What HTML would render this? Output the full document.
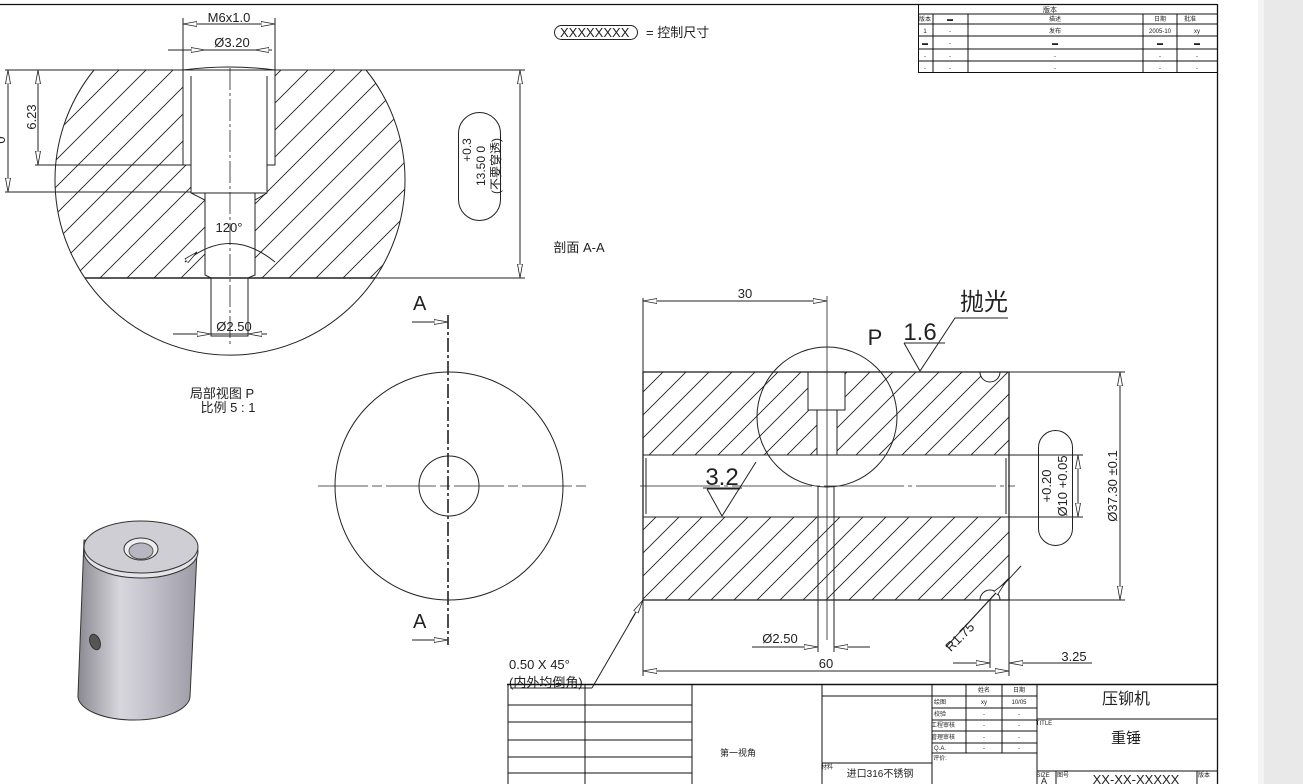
<!DOCTYPE html>
<html><head><meta charset="utf-8"><style>
html,body{margin:0;padding:0;background:#fff;}
body{width:1303px;height:784px;overflow:hidden;position:relative;}
svg{position:absolute;left:0;top:0;}
text{font-family:"Liberation Sans","Noto Sans CJK SC",sans-serif;fill:#222;}
</style></head><body>
<svg width="1303" height="784" viewBox="0 0 1303 784" xmlns="http://www.w3.org/2000/svg">
<defs>
<pattern id="h1" patternUnits="userSpaceOnUse" width="27" height="27">
<path d="M0,27 L27,0 M-5,5 L5,-5 M22,32 L32,22" stroke="#222" stroke-width="0.9"/></pattern>
<pattern id="h2" patternUnits="userSpaceOnUse" width="23" height="23">
<path d="M0,23 L23,0 M-5,5 L5,-5 M18,28 L28,18" stroke="#222" stroke-width="0.9"/></pattern>
<clipPath id="cc"><circle cx="230" cy="180" r="175"/></clipPath>
<linearGradient id="cyl" x1="0" x2="1" y1="0" y2="0">
<stop offset="0" stop-color="#8a8890"/><stop offset="0.35" stop-color="#d8d6dd"/><stop offset="0.6" stop-color="#c4c2cb"/><stop offset="1" stop-color="#9c9aa4"/></linearGradient>
<marker id="ar" markerWidth="14" markerHeight="6" refX="14" refY="3" orient="auto" markerUnits="userSpaceOnUse"><path d="M0,0.5 L14,3 L0,5.5 Z" fill="#fff" stroke="#222" stroke-width="0.8"/></marker>
</defs>
<rect x="1262" y="0" width="41" height="784" fill="#e9e9e9"/>
<rect x="1258" y="0" width="6" height="784" fill="#f4f4f4"/>
<g stroke="#111" fill="none" stroke-width="1">
<line x1="0" y1="4.5" x2="1217" y2="4.5" stroke-width="1.3"/>
<line x1="1217.5" y1="4" x2="1217.5" y2="784" stroke-width="1.3"/>
</g>
<!-- revision table -->
<g stroke="#111" stroke-width="1" fill="none">
<rect x="918.5" y="4.5" width="299" height="68"/>
<line x1="918" y1="14" x2="1217" y2="14"/><line x1="918" y1="24" x2="1217" y2="24"/>
<line x1="918" y1="36" x2="1217" y2="36"/><line x1="918" y1="49" x2="1217" y2="49"/><line x1="918" y1="61" x2="1217" y2="61"/>
<line x1="933" y1="14" x2="933" y2="72"/><line x1="968" y1="14" x2="968" y2="72"/><line x1="1143" y1="14" x2="1143" y2="72"/><line x1="1177" y1="14" x2="1177" y2="72"/>
</g>
<g font-size="6" text-anchor="middle">
<text x="1050" y="12" font-size="7">版本</text>
<text x="925" y="21">版本</text><text x="950" y="21">▬</text><text x="1055" y="21">描述</text><text x="1160" y="21">日期</text><text x="1190" y="21">批准</text>
<text x="925" y="33">1</text><text x="950" y="33">-</text><text x="1055" y="33">发布</text><text x="1160" y="33">2005-10</text><text x="1197" y="33">xy</text>
<text x="925" y="45">▬</text><text x="950" y="45">-</text><text x="1055" y="45">▬</text><text x="1160" y="45">▬</text><text x="1197" y="45">▬</text>
<text x="925" y="58">-</text><text x="950" y="58">-</text><text x="1055" y="58">-</text><text x="1160" y="58">-</text><text x="1197" y="58">-</text>
<text x="925" y="70">-</text><text x="950" y="70">-</text><text x="1055" y="70">-</text><text x="1160" y="70">-</text><text x="1197" y="70">-</text>
</g>
<!-- legend -->
<rect x="554.5" y="25.5" width="83" height="14" rx="7" fill="none" stroke="#222"/>
<text x="560" y="37" font-size="13">XXXXXXXX</text>
<text x="646" y="37" font-size="13">= 控制尺寸</text>

<!-- detail view P -->
<g clip-path="url(#cc)">
<rect x="40" y="70" width="380" height="208" fill="url(#h1)"/>
</g>
<g stroke="#222" fill="#fff" stroke-width="1">
<path d="M183,70 L183,165 L191,165 L191,193 L205,200 L205,275 L211,278 L248,278 L255,275 L255,200 L267,193 L267,165 L275,165 L275,70 Z"/>
<line x1="191" y1="76" x2="191" y2="193"/><line x1="267" y1="76" x2="267" y2="193"/>
<path d="M183,70 Q229,64 275,70" fill="none"/>
<line x1="205" y1="193" x2="205" y2="275"/><line x1="255" y1="193" x2="255" y2="275"/>
<line x1="191" y1="193" x2="267" y2="193"/>
<rect x="211" y="278" width="37" height="58" stroke="#222"/>
</g>
<g stroke="#222" fill="none" stroke-width="1">
<path d="M94,70 L366,70"/>
<path d="M85,278 L375,278" stroke-width="1.4"/>
<path d="M94,70 A175,175 0 1 0 366,70"/>
<line x1="230" y1="68" x2="230" y2="345" stroke-dasharray="22,3,3,3" stroke-width="0.8"/>
<!-- dims -->
<line x1="183" y1="18" x2="183" y2="70"/><line x1="275" y1="18" x2="275" y2="70"/>
<line x1="205" y1="24" x2="183" y2="24" marker-end="url(#ar)"/><line x1="252" y1="24" x2="275" y2="24" marker-end="url(#ar)"/>
<line x1="205" y1="24" x2="252" y2="24"/>
<line x1="168" y1="50" x2="205" y2="50" marker-end="url(#ar)"/><line x1="272" y1="50" x2="255" y2="50" marker-end="url(#ar)"/>
<line x1="205" y1="50" x2="255" y2="50"/>
<line x1="5" y1="70" x2="94" y2="70"/>
<line x1="35" y1="165" x2="183" y2="165"/><line x1="5" y1="192" x2="191" y2="192"/>
<line x1="38" y1="117" x2="38" y2="70" marker-end="url(#ar)"/><line x1="38" y1="117" x2="38" y2="165" marker-end="url(#ar)"/>
<line x1="8" y1="130" x2="8" y2="70" marker-end="url(#ar)"/><line x1="8" y1="130" x2="8" y2="192" marker-end="url(#ar)"/>
<line x1="366" y1="70" x2="525" y2="70"/><line x1="375" y1="278" x2="525" y2="278"/>
<line x1="520" y1="174" x2="520" y2="70" marker-end="url(#ar)"/><line x1="520" y1="174" x2="520" y2="278" marker-end="url(#ar)"/>
<rect x="458.5" y="112.5" width="42" height="108" rx="21"/>
<path d="M185,262 Q230,225 275,262"/>
<line x1="185" y1="262" x2="197" y2="252" marker-end="url(#ar)"/>
<line x1="173" y1="334" x2="211" y2="334" marker-end="url(#ar)"/><line x1="267" y1="334" x2="248" y2="334" marker-end="url(#ar)"/>
<line x1="211" y1="334" x2="248" y2="334"/>
</g>
<g font-size="13" text-anchor="middle">
<text x="229" y="22">M6x1.0</text>
<text x="232" y="47">Ø3.20</text>
<text x="229" y="232">120°</text>
<text x="234" y="331">Ø2.50</text>
<text x="0" y="0" transform="translate(36,117) rotate(-90)">6.23</text>
<text x="0" y="0" transform="translate(5,140) rotate(-90)">0</text>
<text x="0" y="0" transform="translate(471,150) rotate(-90)" font-size="12">+0.3</text>
<text x="0" y="0" transform="translate(485,166) rotate(-90)" font-size="12">13.50  0</text>
<text x="0" y="0" transform="translate(500,166) rotate(-90)" font-size="12">(不要穿透)</text>
<text x="222" y="398">局部视图 P</text>
<text x="228" y="412">比例 5 : 1</text>
<text x="579" y="252">剖面 A-A</text>
</g>

<!-- front view -->
<g stroke="#222" fill="none" stroke-width="1">
<circle cx="449" cy="486" r="114"/>
<circle cx="449" cy="486" r="30"/>
<line x1="318" y1="486" x2="590" y2="486" stroke-dasharray="50,4,10,4" stroke-width="0.8"/>
<line x1="448" y1="315" x2="448" y2="645" stroke-dasharray="14,3,3,3" stroke-width="1.6"/>
<line x1="412" y1="322" x2="448" y2="322" marker-end="url(#ar)"/>
<line x1="412" y1="640" x2="448" y2="640" marker-end="url(#ar)"/>
</g>
<text x="413" y="310" font-size="20">A</text>
<text x="413" y="628" font-size="20">A</text>

<!-- main section -->
<rect x="643" y="372" width="366" height="83" fill="url(#h2)"/>
<rect x="643" y="517" width="366" height="83" fill="url(#h2)"/>
<g stroke="#222" fill="#fff" stroke-width="1">
<rect x="808" y="372" width="37" height="38"/>
<rect x="817" y="410" width="20" height="45"/>
<path d="M980,372 A10,10 0 0 0 1000,372 Z"/>
<path d="M980,600 A10,10 0 0 1 1000,600 Z"/>
</g>
<g stroke="#222" fill="none" stroke-width="1">
<rect x="643" y="372" width="366" height="228" stroke-width="1.3"/>
<line x1="643" y1="455" x2="1009" y2="455"/><line x1="643" y1="517" x2="1009" y2="517"/>
<line x1="646" y1="458" x2="646" y2="514"/><line x1="1006" y1="458" x2="1006" y2="514"/>
<line x1="640" y1="486" x2="1015" y2="486" stroke-dasharray="80,4,4,4" stroke-width="0.8"/>
<circle cx="827" cy="417" r="70"/>
<line x1="827" y1="296" x2="827" y2="640" stroke-width="0.8"/>
<line x1="818" y1="486" x2="818" y2="652"/><line x1="834" y1="486" x2="834" y2="652"/>
<line x1="643" y1="298" x2="643" y2="676"/>
<line x1="720" y1="301" x2="643" y2="301" marker-end="url(#ar)"/><line x1="720" y1="301" x2="827" y2="301" marker-end="url(#ar)"/>
<line x1="826" y1="671" x2="643" y2="671" marker-end="url(#ar)"/><line x1="826" y1="671" x2="1009" y2="671" marker-end="url(#ar)"/>
<line x1="1009" y1="600" x2="1009" y2="676"/>
<line x1="752" y1="647" x2="818" y2="647" marker-end="url(#ar)"/><line x1="870" y1="647" x2="834" y2="647" marker-end="url(#ar)"/>
<line x1="1009" y1="372" x2="1125" y2="372"/><line x1="1009" y1="600" x2="1125" y2="600"/>
<line x1="1120" y1="486" x2="1120" y2="372" marker-end="url(#ar)"/><line x1="1120" y1="486" x2="1120" y2="600" marker-end="url(#ar)"/>
<line x1="1009" y1="455" x2="1083" y2="455"/><line x1="1009" y1="517" x2="1083" y2="517"/>
<line x1="1078" y1="486" x2="1078" y2="455" marker-end="url(#ar)"/><line x1="1078" y1="486" x2="1078" y2="517" marker-end="url(#ar)"/>
<rect x="1038.5" y="430.5" width="34" height="115" rx="17"/>
<line x1="946" y1="647" x2="1021" y2="566"/>
<line x1="960" y1="632" x2="1005" y2="583" marker-end="url(#ar)"/>
<line x1="990" y1="600" x2="990" y2="668"/>
<line x1="953" y1="663" x2="990" y2="663" marker-end="url(#ar)"/>
<line x1="1092" y1="663" x2="1009" y2="663" marker-end="url(#ar)"/>
<line x1="703" y1="488" x2="742" y2="488"/>
<path d="M707,489 L722,516 L756,462"/><line x1="707" y1="489" x2="740" y2="489"/>
<line x1="904" y1="343" x2="945" y2="343"/>
<path d="M904,343 L920,371 L955,318 L1008,318"/>
<line x1="643" y1="600" x2="592" y2="688"/>
<line x1="630" y1="622" x2="643" y2="600" marker-end="url(#ar)"/>
<line x1="592" y1="688" x2="510" y2="688"/>
</g>
<g font-size="13" text-anchor="middle">
<text x="745" y="298">30</text>
<text x="826" y="668">60</text>
<text x="780" y="643">Ø2.50</text>
<text x="1074" y="661">3.25</text>
<text x="0" y="0" transform="translate(963,640) rotate(-45)">R1.75</text>
<text x="0" y="0" transform="translate(1117,486) rotate(-90)">Ø37.30 ±0.1</text>
<text x="0" y="0" transform="translate(1051,486) rotate(-90)">+0.20</text>
<text x="0" y="0" transform="translate(1067,486) rotate(-90)">Ø10 +0.05</text>
<text x="722" y="485" font-size="24">3.2</text>
<text x="920" y="340" font-size="24">1.6</text>
<text x="875" y="345" font-size="22">P</text>
<text x="984" y="310" font-size="24">抛光</text>
</g>
<text x="509" y="669" font-size="13">0.50 X 45°</text>
<text x="509" y="687" font-size="13">(内外均倒角)</text>

<!-- 3D cylinder -->
<path d="M84,540 L78,695 A56,24 0 0 0 190,697 L197,552 Z" fill="url(#cyl)" stroke="#333"/>
<ellipse cx="141" cy="552" rx="57" ry="26" fill="#e4e3e8" stroke="#333"/>
<ellipse cx="141" cy="547" rx="57" ry="26" fill="#cfced5" stroke="#333"/>
<ellipse cx="141" cy="549" rx="17" ry="11" fill="#eee" stroke="#333"/>
<ellipse cx="141" cy="551" rx="12" ry="8" fill="#b8b6c0" stroke="#555"/>
<ellipse cx="95" cy="642" rx="5" ry="8" fill="#555" stroke="#333" transform="rotate(-20 95 642)"/>

<!-- title block -->
<g stroke="#111" fill="none" stroke-width="1">
<line x1="507" y1="684.5" x2="1217" y2="684.5" stroke-width="1.4"/>
<line x1="508" y1="684" x2="508" y2="784"/>
<line x1="585" y1="684" x2="585" y2="784"/>
<line x1="692" y1="684" x2="692" y2="784"/>
<line x1="508" y1="705" x2="692" y2="705"/><line x1="508" y1="722" x2="692" y2="722"/>
<line x1="508" y1="740" x2="692" y2="740"/><line x1="508" y1="757" x2="692" y2="757"/><line x1="508" y1="773" x2="692" y2="773"/>
<line x1="822" y1="684" x2="822" y2="784"/>
<line x1="822" y1="696" x2="932" y2="696"/>
<line x1="822" y1="763" x2="932" y2="763"/>
<line x1="932" y1="684" x2="932" y2="784"/>
<line x1="966" y1="684" x2="966" y2="753"/><line x1="1002" y1="684" x2="1002" y2="753"/>
<line x1="932" y1="696" x2="1037" y2="696"/><line x1="932" y1="708" x2="1037" y2="708"/>
<line x1="932" y1="720" x2="1037" y2="720"/><line x1="932" y1="731" x2="1037" y2="731"/>
<line x1="932" y1="743" x2="1037" y2="743"/><line x1="932" y1="753" x2="1037" y2="753"/>
<line x1="1037" y1="684" x2="1037" y2="784"/>
<line x1="1037" y1="719" x2="1217" y2="719"/><line x1="1037" y1="771" x2="1217" y2="771"/>
<line x1="1056" y1="771" x2="1056" y2="784"/><line x1="1197" y1="771" x2="1197" y2="784"/>
</g>
<g font-size="6" text-anchor="middle">
<text x="984" y="692">姓名</text><text x="1019" y="692">日期</text>
<text x="940" y="704">绘图</text><text x="984" y="704">xy</text><text x="1019" y="704">10/05</text>
<text x="940" y="716">校验</text><text x="984" y="716">-</text><text x="1019" y="716">-</text>
<text x="943" y="727">工程审核</text><text x="984" y="727">-</text><text x="1019" y="727">-</text>
<text x="943" y="739">管理审核</text><text x="984" y="739">-</text><text x="1019" y="739">-</text>
<text x="940" y="750">Q.A.</text><text x="984" y="750">-</text><text x="1019" y="750">-</text>
<text x="940" y="760">评价:</text>
<text x="1044" y="725">TITLE</text>
<text x="827" y="769">材料</text>
<text x="1043" y="777">SIZE</text><text x="1063" y="777">图号</text>
<text x="1204" y="777">版本</text>
</g>
<text x="720" y="756" font-size="9">第一视角</text>
<text x="880" y="777" font-size="10" text-anchor="middle">进口316不锈钢</text>
<text x="1126" y="704" font-size="16" text-anchor="middle">压铆机</text>
<text x="1126" y="743" font-size="15" text-anchor="middle">重锤</text>
<text x="1136" y="784" font-size="13" text-anchor="middle">XX-XX-XXXXX</text>
<text x="1044" y="784" font-size="9" text-anchor="middle">A</text>
</svg>
</body></html>
